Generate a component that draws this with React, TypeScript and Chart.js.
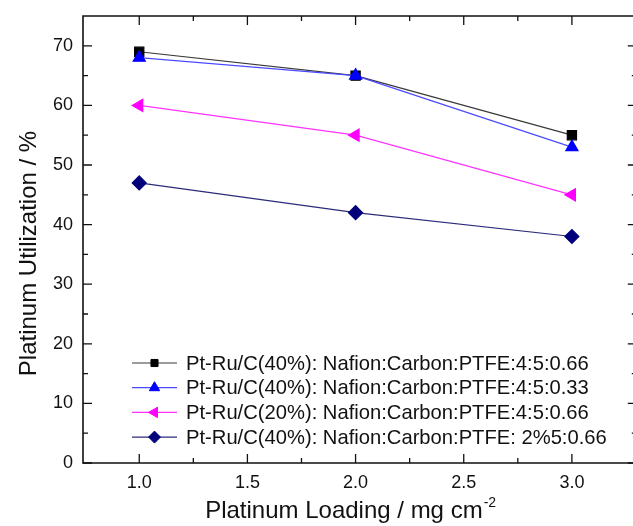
import React, { useEffect, useRef } from "react";
import { Chart, registerables } from "chart.js";
import { drawPoint } from "chart.js/helpers";

Chart.register(...registerables);

// ---- data ----
const loadings = [1.0, 2.0, 3.0];
const seriesA = [69, 65, 55];
const seriesB = [68, 65, 53];
const seriesC = [60, 55, 45];
const seriesD = [47, 42, 38];
const seriesLabels = [
  "Pt-Ru/C(40%): Nafion:Carbon:PTFE:4:5:0.66",
  "Pt-Ru/C(40%): Nafion:Carbon:PTFE:4:5:0.33",
  "Pt-Ru/C(20%): Nafion:Carbon:PTFE:4:5:0.66",
  "Pt-Ru/C(40%): Nafion:Carbon:PTFE: 2%5:0.66",
];
const xMajorTicks = [1.0, 1.5, 2.0, 2.5, 3.0];
const xMinorTicks = [1.25, 1.75, 2.25, 2.75];
const yMajorTicks = [0, 10, 20, 30, 40, 50, 60, 70];
const yMinorTicks = [5, 15, 25, 35, 45, 55, 65];
const xTitle = "Platinum Loading / mg cm";
const xTitleSup = "-2";
const yTitle = "Platinum Utilization / %";

const FONT = "'Liberation Sans', Arial, Helvetica, sans-serif";

const toPoints = (ys: number[]) => loadings.map((x, i) => ({ x, y: ys[i] }));

const framePlugin = {
  id: "originFrame",
  afterDatasetsDraw(chart: any) {
    const { ctx, chartArea } = chart;
    const { left, right, top, bottom } = chartArea;
    const xs = chart.scales.x;
    const ys = chart.scales.y;
    ctx.save();
    ctx.strokeStyle = "#111";
    ctx.lineWidth = 1.6;
    ctx.beginPath();
    ctx.moveTo(right + 2, top);
    ctx.lineTo(left, top);
    ctx.lineTo(left, bottom);
    ctx.lineTo(right + 2, bottom);
    ctx.stroke();
    ctx.lineWidth = 1.3;
    const major = 9;
    const minor = 5;
    ctx.beginPath();
    const xt = (v: number, len: number) => {
      const p = xs.getPixelForValue(v);
      ctx.moveTo(p, bottom);
      ctx.lineTo(p, bottom - len);
      ctx.moveTo(p, top);
      ctx.lineTo(p, top + len);
    };
    const yt = (v: number, len: number) => {
      const p = ys.getPixelForValue(v);
      ctx.moveTo(left, p);
      ctx.lineTo(left + len, p);
      ctx.moveTo(right, p);
      ctx.lineTo(right - len, p);
    };
    xMajorTicks.forEach((v) => xt(v, major));
    xMinorTicks.forEach((v) => xt(v, minor));
    yMajorTicks.forEach((v) => yt(v, major));
    yMinorTicks.forEach((v) => yt(v, minor));
    ctx.stroke();

    // legend
    const legX0 = left + 49;
    const legX1 = left + 94;
    const textX = left + 103;
    const rowY0 = 363;
    const rowGap = 24.7;
    chart.data.datasets.forEach((ds: any, i: number) => {
      const y = rowY0 + i * rowGap;
      ctx.strokeStyle = ds.borderColor;
      ctx.lineWidth = 1.2;
      ctx.beginPath();
      ctx.moveTo(legX0, y);
      ctx.lineTo(legX1, y);
      ctx.stroke();
      ctx.fillStyle = ds.pointBackgroundColor;
      ctx.strokeStyle = ds.pointBorderColor;
      ctx.lineWidth = 1;
      drawPoint(ctx, {
        pointStyle: ds.pointStyle,
        rotation: ds.pointRotation || 0,
        radius: ds.legendRadius,
        borderWidth: 1,
      }, (legX0 + legX1) / 2, y);
      ctx.fillStyle = "#111";
      ctx.font = `20.2px ${FONT}`;
      ctx.textAlign = "left";
      ctx.textBaseline = "middle";
      ctx.fillText(ds.label, textX, y + 1);
    });

    // axis titles
    ctx.fillStyle = "#111";
    ctx.font = `24px ${FONT}`;
    ctx.textBaseline = "alphabetic";
    const mainW = ctx.measureText(xTitle).width;
    const cx = (left + right) / 2 - 16;
    const x0 = cx - mainW / 2;
    ctx.textAlign = "left";
    ctx.fillText(xTitle, x0, 518);
    ctx.font = `14px ${FONT}`;
    ctx.fillText(xTitleSup, x0 + mainW + 1, 507);

    ctx.font = `24px ${FONT}`;
    ctx.translate(36, (top + bottom) / 2 + 14);
    ctx.rotate(-Math.PI / 2);
    ctx.textAlign = "center";
    ctx.fillText(yTitle, 0, 0);
    ctx.restore();
  },
};

export default function App() {
  const canvasRef = useRef<HTMLCanvasElement | null>(null);

  useEffect(() => {
    const canvas = canvasRef.current;
    if (!canvas) return;
    const chart = new Chart(canvas, {
      type: "line",
      data: {
        datasets: [
          {
            label: seriesLabels[0],
            data: toPoints(seriesA),
            borderColor: "#3a3a3a",
            pointBackgroundColor: "#000000",
            pointBorderColor: "#000000",
            pointStyle: "rect",
            pointRadius: 6.5,
            legendRadius: 5,
            borderWidth: 1.2,
            order: 4,
          } as any,
          {
            label: seriesLabels[1],
            data: toPoints(seriesB),
            borderColor: "#4a4aff",
            pointBackgroundColor: "#0000ff",
            pointBorderColor: "#0000ff",
            pointStyle: "triangle",
            pointRadius: 7,
            legendRadius: 6,
            borderWidth: 1.2,
            order: 3,
          } as any,
          {
            label: seriesLabels[2],
            data: toPoints(seriesC),
            borderColor: "#ff33ff",
            pointBackgroundColor: "#ff00ff",
            pointBorderColor: "#ff00ff",
            pointStyle: "triangle",
            pointRotation: -90,
            pointRadius: 7,
            legendRadius: 6,
            borderWidth: 1.2,
            order: 2,
          } as any,
          {
            label: seriesLabels[3],
            data: toPoints(seriesD),
            borderColor: "#2b2b7a",
            pointBackgroundColor: "#00007a",
            pointBorderColor: "#00007a",
            pointStyle: "rectRot",
            pointRadius: 7,
            legendRadius: 6,
            borderWidth: 1.2,
            order: 1,
          } as any,
        ],
      },
      options: {
        animation: false,
        responsive: false,
        devicePixelRatio: 1,
        layout: { padding: { left: 0, top: 16, right: 8, bottom: 0 } },
        plugins: {
          legend: { display: false },
          tooltip: { enabled: false },
        },
        scales: {
          x: {
            type: "linear",
            min: 0.74,
            max: 3.3,
            grid: { display: false, drawTicks: false },
            border: { display: false },
            afterBuildTicks: (scale: any) => {
              scale.ticks = xMajorTicks.map((value) => ({ value }));
            },
            afterFit: (scale: any) => {
              scale.height = 63;
              scale.paddingLeft = 0;
              scale.paddingRight = 0;
            },
            ticks: {
              padding: 9,
              color: "#111",
              font: { family: FONT, size: 18 },
              maxRotation: 0,
              callback: (v: any) => Number(v).toFixed(1),
            },
          },
          y: {
            type: "linear",
            min: 0,
            max: 75,
            grid: { display: false, drawTicks: false },
            border: { display: false },
            afterBuildTicks: (scale: any) => {
              scale.ticks = yMajorTicks.map((value) => ({ value }));
            },
            afterFit: (scale: any) => {
              scale.width = 83;
              scale.paddingTop = 0;
              scale.paddingBottom = 0;
            },
            ticks: {
              padding: 10,
              color: "#111",
              font: { family: FONT, size: 18 },
              callback: (v: any) => String(v),
            },
          },
        },
      },
      plugins: [framePlugin],
    });
    return () => chart.destroy();
  }, []);

  return (
    <div
      style={{
        position: "fixed",
        left: 0,
        top: 0,
        width: 633,
        height: 526,
        overflow: "hidden",
        background: "#fff",
      }}
    >
      <canvas
        ref={canvasRef}
        width={645}
        height={526}
        style={{ width: 645, height: 526, display: "block" }}
      />
    </div>
  );
}
